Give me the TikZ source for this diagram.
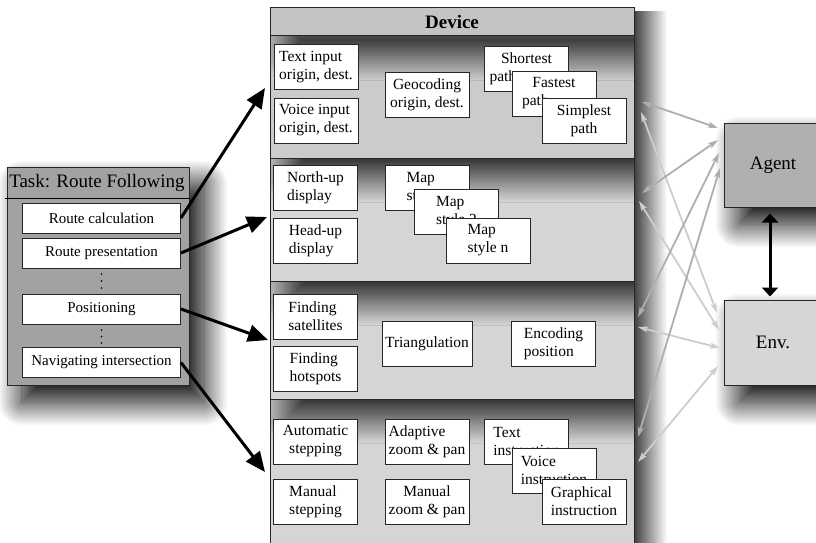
\documentclass[tikz,border=0pt]{standalone}
\usepackage{fontspec}
\setmainfont{Liberation Serif}
\usetikzlibrary{shadows.blur,arrows.meta}
\definecolor{taskfill}{HTML}{A2A2A2}
\definecolor{titlefill}{HTML}{C4C4C4}
\definecolor{secA}{HTML}{CBCBCB}
\definecolor{secB}{HTML}{D5D5D5}
\definecolor{agentfill}{HTML}{B0B0B0}
\definecolor{envfill}{HTML}{D6D6D6}
\definecolor{gdark}{HTML}{AEAEAE}
\definecolor{glight}{HTML}{CDCDCD}
\tikzset{
 dbox/.style={draw=black!85, line width=0.9pt, fill=white, minimum width=84pt, minimum height=45pt, inner sep=2pt, font=\fontsize{15.5}{18}\selectfont, align=left},
 rbox/.style={draw=black!85, line width=0.9pt, fill=white, minimum width=158pt, minimum height=30pt, inner sep=2pt, font=\fontsize{15}{18}\selectfont},
 bigbox/.style={draw=black!85, line width=1pt, font=\fontsize{19}{22}\selectfont},
 bigarrow/.style={line width=3pt, -{Triangle[length=20pt,width=17pt]}},
 dblarrow/.style={line width=3pt, {Triangle[length=9pt,width=16pt]}-{Triangle[length=9pt,width=16pt]}},
 garrow/.style={line width=1.8pt, {Stealth[length=10pt,width=6pt,inset=2pt]}-{Stealth[length=10pt,width=6pt,inset=2pt]}},
 secshadow/.style={blur shadow={shadow xshift=18pt, shadow yshift=-18pt, shadow blur radius=26pt, shadow blur steps=50, shadow opacity=90}},
 boxshadow/.style={blur shadow={shadow xshift=15pt, shadow yshift=-17pt, shadow blur radius=24pt, shadow blur steps=50, shadow opacity=100}},
}
\begin{document}
\begin{tikzpicture}[x=1pt,y=-1pt]
\useasboundingbox (0,0) rectangle (816,543);
\clip (0,0) rectangle (816,543);

% device right shadow
\shade[left color=black!75, right color=white] (634,12) rectangle (667,543);

% device sections
\fill[titlefill] (270,8) rectangle (634,36);
\fill[secA] (270,36) rectangle (634,158);
\fill[secB] (270,158) rectangle (634,281);
\fill[secB] (270,281) rectangle (634,399);
\fill[secB] (270,399) rectangle (634,560);
\begin{scope}
 \clip (270,36) rectangle (634,158);
 \path[secshadow] (270,8) rectangle (634,36);
\end{scope}
\begin{scope}
 \clip (270,158) rectangle (634,281);
 \path[secshadow] (270,36) rectangle (634,158);
\end{scope}
\begin{scope}
 \clip (270,281) rectangle (634,399);
 \path[secshadow] (270,158) rectangle (634,281);
\end{scope}
\begin{scope}
 \clip (270,399) rectangle (634,560);
 \path[secshadow] (270,281) rectangle (634,399);
\end{scope}
\draw[black!85, line width=1pt] (270,560) -- (270,8) -- (634,8) -- (634,560);
\draw[black!85, line width=1pt] (270,36) -- (634,36) (270,158) -- (634,158) (270,281) -- (634,281) (270,399) -- (634,399);
\node[font=\fontsize{19}{22}\selectfont\bfseries] (device) at (452,22) {Device};

% section 1
\node[dbox] (tin) at (316,67) {Text input\\origin, dest.};
\node[dbox] (vin) at (316,120.5) {Voice input\\origin, dest.};
\node[dbox, align=center] (geo) at (427,94.5) {Geocoding\\origin, dest.};
\node[dbox] (sp) at (526.5,68.5) {\makebox[74pt][c]{Shortest}\\path};
\node[dbox] (fp) at (554,93.5) {\makebox[64pt][c]{Fastest}\\path};
\node[dbox, align=center] (simp) at (584,120.5) {Simplest\\path};

% section 2
\node[dbox] (nu) at (315.5,188) {North-up\\display};
\node[dbox] (hu) at (315.5,240.5) {Head-up\\display};
\node[dbox] (ms1) at (427,188) {Map\\style 1};
\node[dbox] (ms2) at (456.5,212) {Map\\style 2};
\node[dbox] (msn) at (488,240.5) {Map\\style n};

% section 3
\node[dbox] (fs) at (315.5,316.5) {Finding\\satellites};
\node[dbox] (fh) at (315.5,368.5) {Finding\\hotspots};
\node[dbox, minimum width=90pt] (tri) at (427,344) {Triangulation};
\node[dbox] (enc) at (553.5,344) {Encoding\\position};

% section 4
\node[dbox, align=center] (ast) at (315.5,441.5) {Automatic\\stepping};
\node[dbox] (mst) at (315.5,501.5) {Manual\\stepping};
\node[dbox] (az) at (427,441.5) {Adaptive\\zoom \& pan};
\node[dbox, align=center] (mz) at (427,501.5) {Manual\\zoom \& pan};
\node[dbox] (ti) at (526.5,441.5) {Text\\instruction};
\node[dbox] (vi) at (554,470.5) {Voice\\instruction};
\node[dbox] (gi) at (584,501.5) {Graphical\\instruction};

% task box
\node[bigbox, fill=taskfill, minimum width=182pt, minimum height=218pt, boxshadow] (task) at (98,276) {};
\node[font=\fontsize{19}{22}\selectfont] (tasktitle) at (97,183) {Task: Route Following};
\draw[black, line width=1pt] (5,198) -- (190,198);
\node[rbox] (rc) at (101.5,218) {Route calculation};
\node[rbox] (rp) at (101.5,253) {Route presentation};
\node[rbox] (pos) at (101.5,309) {Positioning};
\node[rbox] (nav) at (101.5,362.5) {Navigating intersection};
\foreach \yy in {274,281,288,330,336.5,343} \fill (101.5,\yy) circle (0.9);

% agent / env
\node[bigbox, fill=agentfill, minimum width=98pt, minimum height=84pt, boxshadow] (agent) at (773,165) {Agent};
\node[bigbox, fill=envfill, minimum width=98pt, minimum height=85pt, boxshadow] (env) at (773,342.5) {Env.};
\draw[dblarrow, shorten <=6pt, shorten >=3pt] ([xshift=-3pt]agent.south) -- ([xshift=-3pt]env.north);

% black arrows
\coordinate (t1) at (265,88);
\coordinate (t2) at (267,217);
\coordinate (t3) at (268,340);
\coordinate (t4) at (265,472);
\draw[bigarrow] (rc.east) -- (t1);
\draw[bigarrow] (rp.east) -- (t2);
\draw[bigarrow] (pos.east) -- (t3);
\draw[bigarrow] (nav.east) -- (t4);

% gray arrows
\coordinate (d1) at (642,102);
\coordinate (d2) at (642,193);
\coordinate (d3) at (641,112);
\coordinate (d4) at (639,201);
\coordinate (d5) at (638,317);
\coordinate (d6) at (638,327);
\coordinate (d7) at (638,437);
\coordinate (d8) at (638,462);
\coordinate (a1) at (718,128);
\coordinate (a2) at (718,140);
\coordinate (a3) at (719,153);
\coordinate (a4) at (720,168);
\coordinate (e1) at (717,313);
\coordinate (e2) at (719,330);
\coordinate (e3) at (720,348);
\coordinate (e4) at (718,366);
\draw[garrow, glight] (d3) -- (e1);
\draw[garrow, glight] (d4) -- (e2);
\draw[garrow, glight] (d6) -- (e3);
\draw[garrow, glight] (d8) -- (e4);
\draw[garrow, gdark] (d1) -- (a1);
\draw[garrow, gdark] (d2) -- (a2);
\draw[garrow, gdark] (d5) -- (a3);
\draw[garrow, gdark] (d7) -- (a4);
\end{tikzpicture}
\end{document}
